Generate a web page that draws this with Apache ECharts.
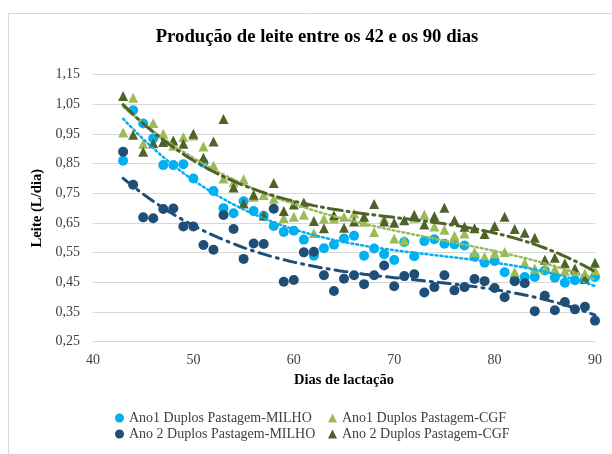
<!DOCTYPE html>
<html>
<head>
<meta charset="utf-8">
<script src="https://cdn.jsdelivr.net/npm/echarts@6/dist/echarts.min.js"></script>
<style>
  html, body { margin: 0; padding: 0; background: #fff; }
  #chart { width: 612px; height: 454px; }
</style>
</head>
<body>
<div id="chart"></div>
<script>
// dias de lactação
var dias = [43, 44, 45, 46, 47, 48, 49, 50, 51, 52, 53, 54, 55, 56, 57, 58,
  59, 60, 61, 62, 63, 64, 65, 66, 67, 68, 69, 70, 71, 72, 73, 74,
  75, 76, 77, 78, 79, 80, 81, 82, 83, 84, 85, 86, 87, 88, 89, 90];

// Ano1 Duplos Pastagem-MILHO
var ano1Milho = [0.86, 1.03, 0.985, 0.935, 0.845, 0.845, 0.848, 0.80, 0.853, 0.758, 0.70, 0.683, 0.723, 0.69, 0.674, 0.64,
  0.62, 0.624, 0.594, 0.54, 0.565, 0.577, 0.598, 0.607, 0.54, 0.564, 0.545, 0.525, 0.586, 0.538, 0.589, 0.595,
  0.58, 0.578, 0.574, 0.536, 0.516, 0.522, 0.484, 0.458, 0.468, 0.468, 0.49, 0.466, 0.449, 0.457, 0.462, 0.468];

// Ano1 Duplos Pastagem-CGF
var ano1Cgf = [0.955, 1.072, 0.917, 0.987, 0.951, 0.91, 0.94, 0.945, 0.908, 0.844, 0.80, 0.787, 0.797, 0.738, 0.744, 0.732,
  0.667, 0.671, 0.678, 0.616, 0.664, 0.665, 0.671, 0.682, 0.654, 0.62, 0.664, 0.598, 0.592, 0.668, 0.678, 0.638,
  0.627, 0.607, 0.615, 0.551, 0.536, 0.547, 0.552, 0.485, 0.515, 0.497, 0.497, 0.495, 0.489, 0.488, 0.48, 0.491];

// Ano 2 Duplos Pastagem-MILHO
var ano2Milho = [0.89, 0.779, 0.669, 0.666, 0.697, 0.699, 0.638, 0.638, 0.576, 0.56, 0.677, 0.63, 0.529, 0.581, 0.579, 0.698,
  0.452, 0.458, 0.551, 0.553, 0.474, 0.421, 0.462, 0.474, 0.444, 0.474, 0.507, 0.437, 0.471, 0.477, 0.416, 0.434,
  0.474, 0.423, 0.434, 0.461, 0.454, 0.431, 0.40, 0.454, 0.447, 0.353, 0.405, 0.356, 0.384, 0.359, 0.368, 0.321];

// Ano 2 Duplos Pastagem-CGF
var ano2Cgf = [1.078, 0.947, 0.89, 0.919, 0.923, 0.928, 0.917, 0.951, 0.87, 0.925, 1.0, 0.77, 0.716, 0.745, 0.675, 0.785,
  0.69, 0.712, 0.719, 0.657, 0.632, 0.676, 0.634, 0.655, 0.671, 0.714, 0.655, 0.651, 0.659, 0.678, 0.645, 0.673,
  0.701, 0.659, 0.637, 0.632, 0.613, 0.64, 0.671, 0.63, 0.617, 0.60, 0.526, 0.533, 0.514, 0.497, 0.461, 0.516];

var nomes = ['Ano1 Duplos Pastagem-MILHO', 'Ano1 Duplos Pastagem-CGF',
  'Ano 2 Duplos Pastagem-MILHO', 'Ano 2 Duplos Pastagem-CGF'];

var serif = '"Liberation Serif", "Times New Roman", serif';

function pares(ys) {
  return dias.map(function (d, i) { return [d, ys[i]]; });
}

// linha de tendência polinomial (mínimos quadrados), x centrado
function tendencia(ys, ordem) {
  var n = dias.length, m = ordem + 1, c = 66.5, s = 23.5;
  var A = [], i, j, k;
  for (i = 0; i < m; i++) { A.push(new Array(m + 1).fill(0)); }
  for (k = 0; k < n; k++) {
    var t = (dias[k] - c) / s;
    for (i = 0; i < m; i++) {
      for (j = 0; j < m; j++) A[i][j] += Math.pow(t, i + j);
      A[i][m] += Math.pow(t, i) * ys[k];
    }
  }
  for (i = 0; i < m; i++) {
    for (k = i + 1; k < m; k++) {
      var f = A[k][i] / A[i][i];
      for (j = i; j <= m; j++) A[k][j] -= f * A[i][j];
    }
  }
  var coef = new Array(m).fill(0);
  for (i = m - 1; i >= 0; i--) {
    var soma = A[i][m];
    for (j = i + 1; j < m; j++) soma -= A[i][j] * coef[j];
    coef[i] = soma / A[i][i];
  }
  var out = [];
  for (var x = 43; x <= 90.001; x += 0.5) {
    var tt = (x - c) / s, y = 0;
    for (i = 0; i < m; i++) y += coef[i] * Math.pow(tt, i);
    out.push([x, y]);
  }
  return out;
}

function pontos(nome, ys, simbolo, cor) {
  return {
    name: nome,
    type: 'scatter',
    symbol: simbolo,
    symbolSize: 10,
    itemStyle: { color: cor, opacity: 1 },
    data: pares(ys),
    z: 2
  };
}

function linha(ys, cor, tipo, largura) {
  return {
    name: 'tend',
    type: 'line',
    showSymbol: false,
    silent: true,
    lineStyle: { color: cor, type: tipo, width: largura, cap: 'round' },
    data: tendencia(ys, 3),
    z: 3
  };
}

var cores = ['#00B0F0', '#9BBB59', '#1F4E79', '#4F6228'];

var myChart = echarts.init(document.getElementById('chart'));
var option = {
  animation: false,
  backgroundColor: '#fff',
  graphic: [{
    type: 'rect',
    shape: { x: 8.5, y: 13.5, width: 700, height: 700 },
    style: { fill: 'none', stroke: '#d9d9d9', lineWidth: 1 },
    silent: true
  }],
  title: {
    text: 'Produção de leite entre os 42 e os 90 dias',
    left: 312,
    top: 23,
    textAlign: 'center',
    textStyle: { fontFamily: serif, fontSize: 18.7, fontWeight: 'bold', color: '#000' }
  },
  grid: { left: 93, right: 17, top: 74.6, bottom: 112.3, containLabel: false, outerBoundsMode: 'none' },
  legend: [{
    data: [nomes[0], nomes[2]],
    orient: 'vertical',
    left: 110,
    top: 406,
    itemWidth: 9,
    itemHeight: 9,
    itemGap: 2,
    textStyle: { fontFamily: serif, fontSize: 14, color: '#404040' }
  }, {
    data: [nomes[1], nomes[3]],
    orient: 'vertical',
    left: 323,
    top: 406,
    itemWidth: 9,
    itemHeight: 9,
    itemGap: 2,
    textStyle: { fontFamily: serif, fontSize: 14, color: '#404040' }
  }],
  xAxis: {
    type: 'value',
    min: 40,
    max: 90,
    interval: 10,
    name: 'Dias de lactação',
    nameLocation: 'middle',
    nameGap: 31,
    nameTextStyle: { fontFamily: serif, fontSize: 14.5, fontWeight: 'bold', color: '#000' },
    axisLine: { show: false },
    axisTick: { show: false },
    splitLine: { show: false },
    axisLabel: { fontFamily: serif, fontSize: 14, color: '#404040', margin: 12 }
  },
  yAxis: {
    type: 'value',
    min: 0.25,
    max: 1.15,
    interval: 0.1,
    name: 'Leite (L/dia)',
    nameLocation: 'middle',
    nameRotate: 90,
    nameGap: 47,
    nameTextStyle: { fontFamily: serif, fontSize: 14.7, fontWeight: 'bold', color: '#000' },
    axisLine: { show: false },
    axisTick: { show: false },
    splitLine: { lineStyle: { color: '#d9d9d9', width: 1 } },
    axisLabel: {
      fontFamily: serif, fontSize: 14, color: '#404040', margin: 13,
      formatter: function (v) { return v.toFixed(2).replace('.', ','); }
    }
  },
  series: [
    pontos(nomes[0], ano1Milho, 'circle', cores[0]),
    pontos(nomes[1], ano1Cgf, 'triangle', cores[1]),
    pontos(nomes[2], ano2Milho, 'circle', cores[2]),
    pontos(nomes[3], ano2Cgf, 'triangle', cores[3]),
    linha(ano1Milho, cores[0], [2, 3], 2.5),
    linha(ano1Cgf, cores[1], [2, 3], 2.5),
    linha(ano2Milho, cores[2], [12, 6, 2, 6], 3),
    linha(ano2Cgf, cores[3], [14, 5, 2, 5], 3)
  ]
};
myChart.setOption(option);
</script>
</body>
</html>
